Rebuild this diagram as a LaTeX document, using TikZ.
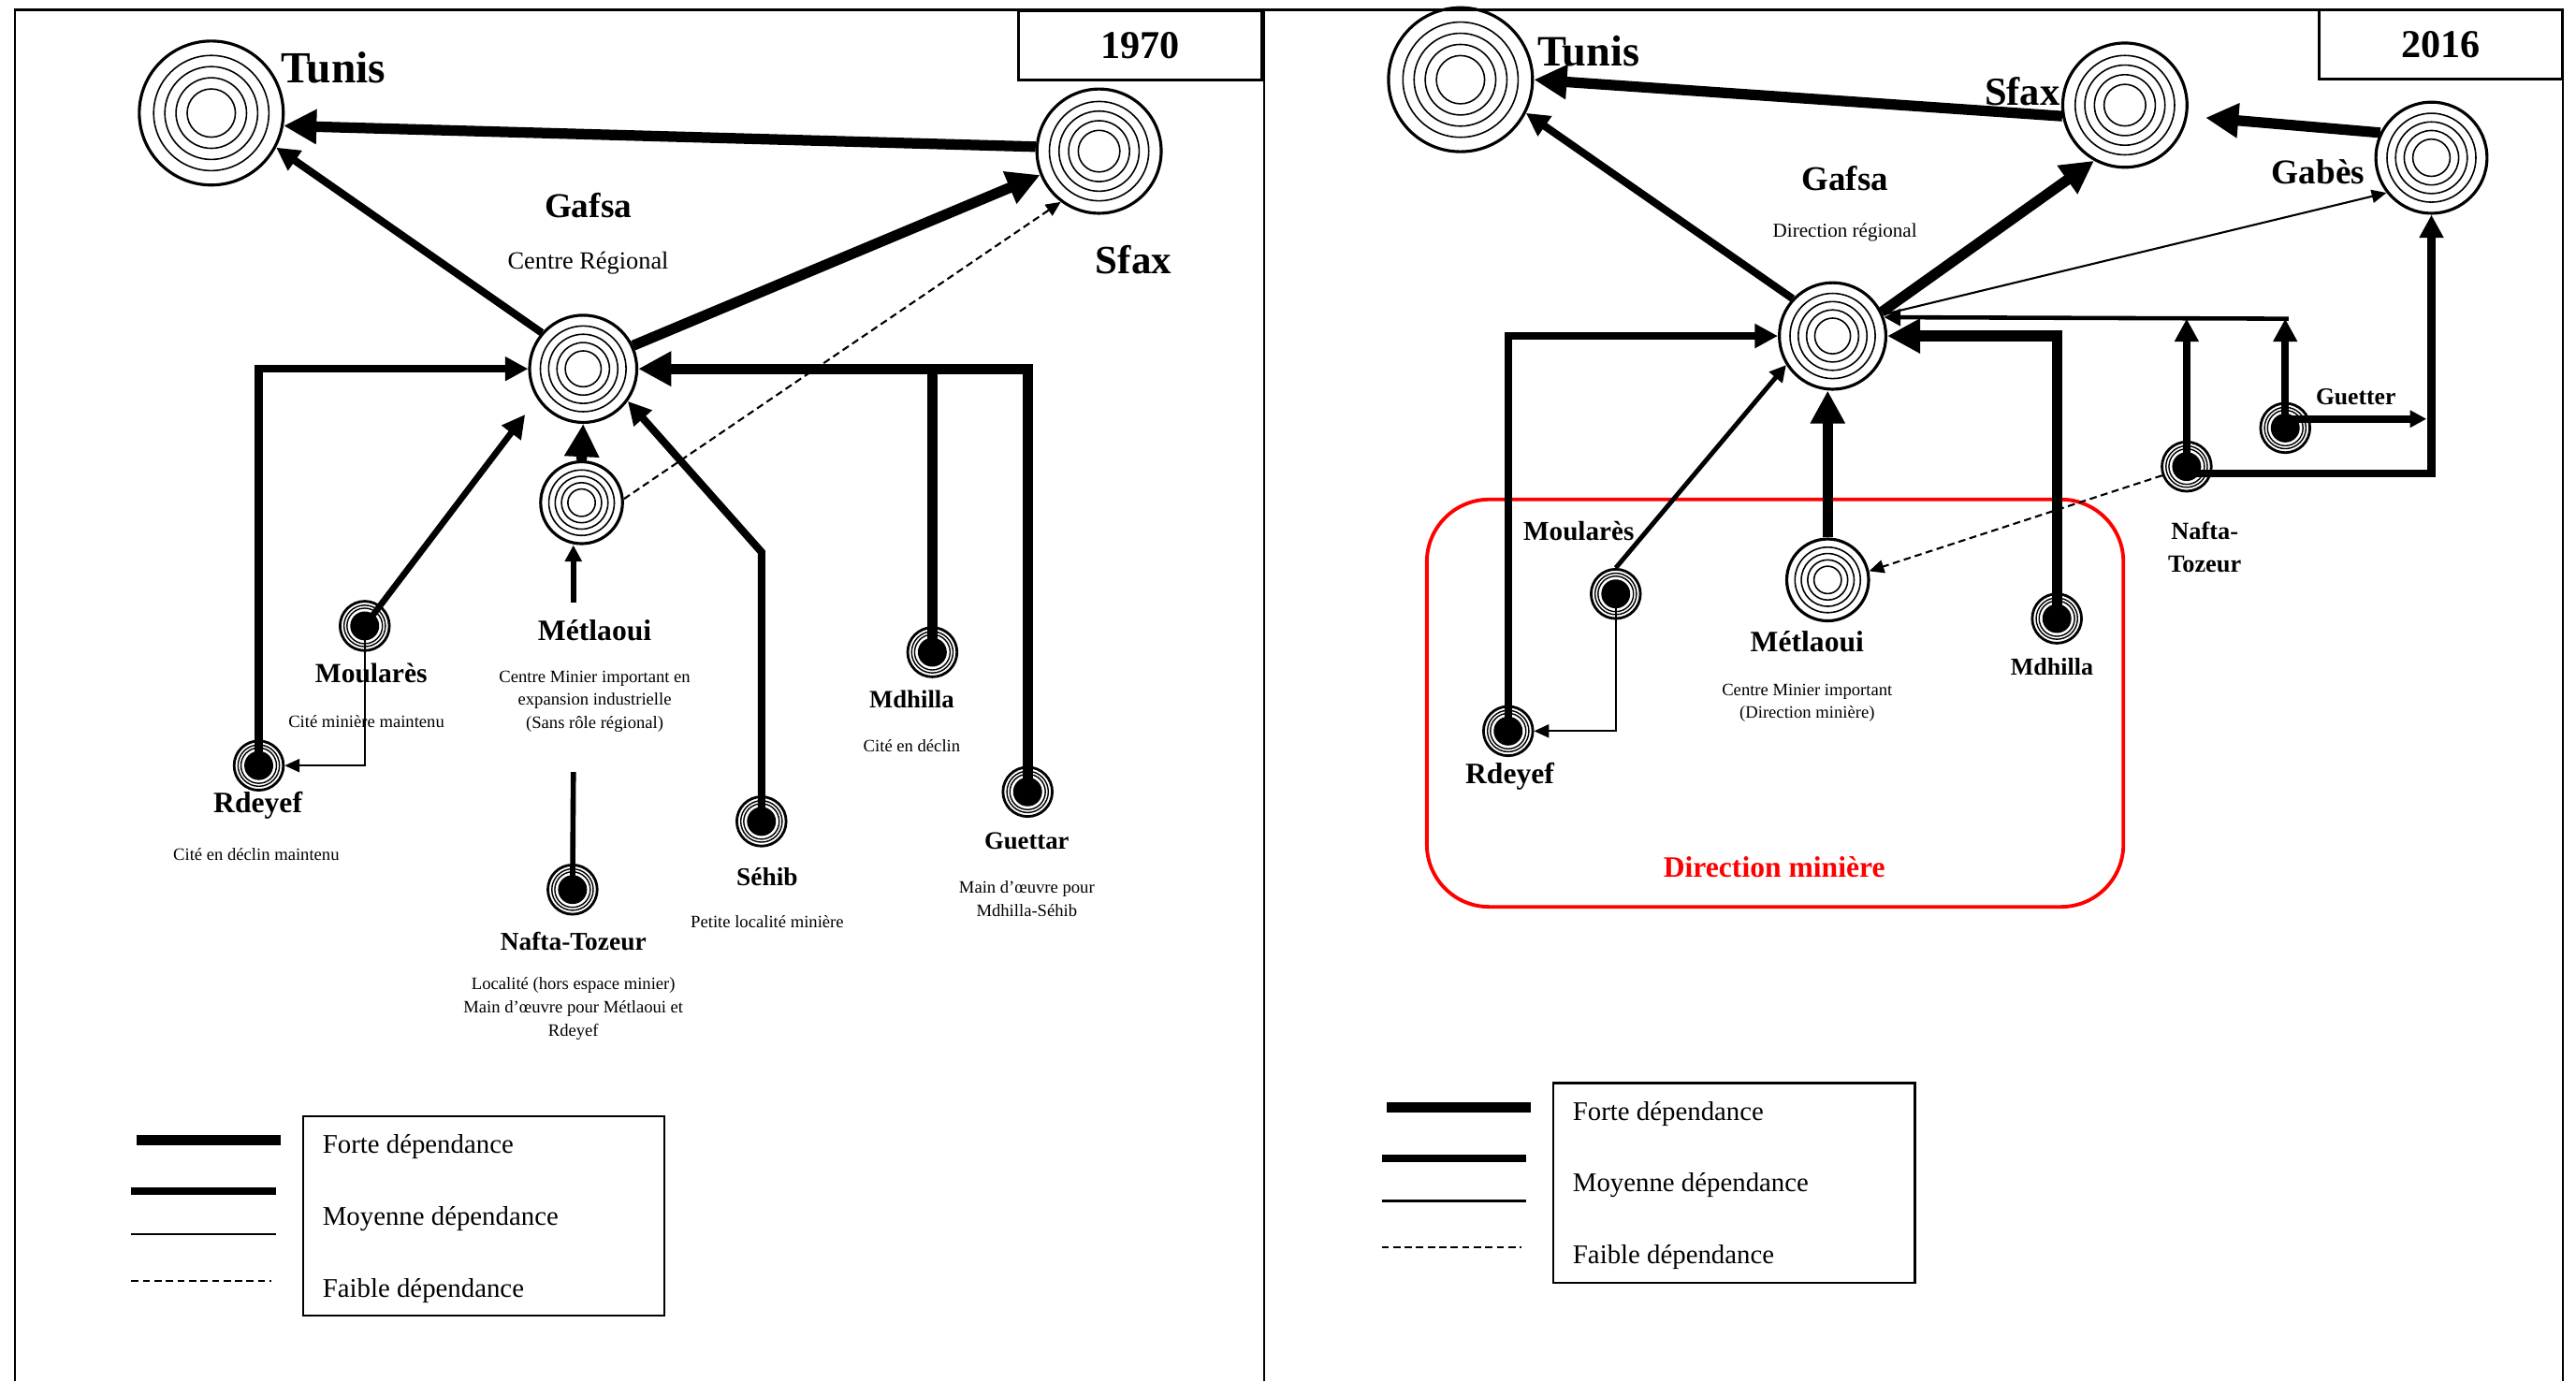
\documentclass[tikz,border=0pt]{standalone}
\usepackage{fontspec}
\setmainfont{Liberation Serif}
\usetikzlibrary{arrows.meta,calc}
\begin{document}
\begin{tikzpicture}[x=0.017557cm,y=-0.017557cm,
  big/.style={circle, draw, line width=0.9pt, inner sep=0pt, minimum size=#1,
    path picture={\foreach \f in {0.8,0.645,0.49,0.335}{\draw[line width=0.45pt] (path picture bounding box.center) circle[radius=\f*#1/2];}}},
  mine/.style={circle, draw, line width=0.8pt, inner sep=0pt, minimum size=15pt,
    path picture={\draw[line width=0.4pt] (path picture bounding box.center) circle[radius=6.3pt] (path picture bounding box.center) circle[radius=5.4pt];
      \fill (path picture bounding box.center) circle[radius=4.4pt];}},
  forte/.style={line width=3.2pt},
  moy/.style={line width=2.3pt},
  light/.style={line width=1.6pt},
  thinl/.style={line width=0.6pt},
  faible/.style={line width=0.6pt, dash pattern=on 2.2pt off 1.3pt},
  tF/.style={-{Triangle[length=10pt,width=10pt]}},
  tM/.style={-{Triangle[length=7pt,width=7pt]}},
  tL/.style={-{Triangle[length=5pt,width=5pt]}},
  tT/.style={-{Triangle[length=4.5pt,width=4pt]}},
  lbl/.style={inner sep=0pt, font=\bfseries\fontsize{#1}{#1}\selectfont},
  desc/.style={inner sep=0pt, align=center, font=\fontsize{5.3}{7}\selectfont},
  legtxt/.style={inner sep=0pt, anchor=west, font=\fontsize{8.2}{10}\selectfont},
  yearbox/.style={draw, line width=0.9pt, inner sep=0pt, minimum width=74pt, minimum height=21.2pt, font=\bfseries\fontsize{12}{14}\selectfont},
  legbox/.style={draw, line width=0.6pt, inner sep=0pt, minimum width=110pt, minimum height=60.7pt},
]
\fill[white] (0,0) rectangle (1568,840.7);
\useasboundingbox (0,0) rectangle (1568,840.7);

% frames
\draw[line width=0.6pt] (9,840.7) -- (9,6) -- (769.5,6) -- (769.5,840.7);
\draw[line width=0.6pt] (769.5,6) -- (1560,6) -- (1560,840.7);

%================ LEFT 1970 ================
\node[yearbox] (y1970) at (694,27.5) {1970};

\node[big=43.8pt] (tunisL) at (128.6,68.8) {};
\node[big=37.8pt] (sfaxL) at (669,92) {};
\node[big=32.6pt] (gafsaL) at (355,224.5) {};
\node[big=24.9pt] (metlL) at (354,306) {};
\node[mine] (moulL) at (222,381) {};
\node[mine] (rdeyL) at (157.5,466) {};
\node[mine] (nafL) at (348.5,541.5) {};
\node[mine] (sehL) at (463.5,500) {};
\node[mine] (mdhL) at (567.5,397) {};
\node[mine] (gueL) at (625.5,482) {};

\node[lbl=13.5] (tunisLt) at (203,41) {Tunis};
\node[lbl=10.6] (gafsaLt) at (358,125) {Gafsa};
\node[inner sep=0pt, font=\fontsize{7.5}{9}\selectfont] (gafsaLd) at (358,160) {Centre Régional};
\node[lbl=12.2] (sfaxLt) at (690,158) {Sfax};
\node[lbl=9] (metlLt) at (362,383.5) {Métlaoui};
\node[desc] (metlLd) at (362,427) {Centre Minier important en\\expansion industrielle\\(Sans rôle régional)};
\node[lbl=8.4] (moulLt) at (226,409.5) {Moularès};
\node[desc] (moulLd) at (223,439) {Cité minière maintenu};
\node[lbl=9] (rdeyLt) at (157,490.5) {Rdeyef};
\node[desc] (rdeyLd) at (156,520) {Cité en déclin maintenu};
\node[lbl=7.8] (nafLt) at (349,573) {Nafta-Tozeur};
\node[desc] (nafLd) at (349,614) {Localité (hors espace minier)\\Main d’œuvre pour Métlaoui et\\Rdeyef};
\node[lbl=7.8] (sehLt) at (467,533.5) {Séhib};
\node[desc] (sehLd) at (467,561) {Petite localité minière};
\node[lbl=7.6] (mdhLt) at (555,425.5) {Mdhilla};
\node[desc] (mdhLd) at (555,454) {Cité en déclin};
\node[lbl=7.6] (gueLt) at (625,512) {Guettar};
\node[desc] (gueLd) at (625,547) {Main d’œuvre pour\\Mdhilla-Séhib};

\coordinate (ntA) at (349,470);
\coordinate (ntB) at (349,367);
\coordinate (sehK) at (463.5,336);

\draw[forte,tF] (sfaxL.176) -- (tunisL.-10);
\draw[moy,tM] (gafsaL.139) -- (tunisL.-28);
\draw[forte,tF] (gafsaL.25) -- (sfaxL.202);
\draw[faible,tT] (metlL.5) -- (sfaxL.233);
\draw[forte,tF] (metlL.north) -- (gafsaL.south);
\draw[light] (nafL.center) -- (ntA);
\draw[light,tL] (ntB) -- (ntB |- metlL.south);
\draw[line width=1.9pt,tM,shorten >=6pt] (moulL.center) -- (gafsaL.213);
\draw[moy,tM] (sehL.center) -- (sehK) -- (gafsaL.-36);
\draw[moy,tM] (rdeyL.center) |- (gafsaL.west);
\draw[thinl,tT] (moulL.center) |- (rdeyL.east);
\draw[forte,tF] (mdhL.center) |- (gafsaL.east);
\draw[forte] (gueL.center) |- (mdhL.center |- gafsaL.east);

% legend left
\draw[line width=3.3pt] (83,694) -- (171,694);
\draw[line width=2.1pt] (80,725) -- (168,725);
\draw[line width=0.6pt] (80,751) -- (168,751);
\draw[faible] (80,779.5) -- (165,779.5);
\node[legbox] (legL) at (294.5,740) {};
\node[legtxt] (legL1) at (196,698) {Forte dépendance};
\node[legtxt] (legL2) at (196,742) {Moyenne dépendance};
\node[legtxt] (legL3) at (196,786) {Faible dépendance};

%================ RIGHT 2016 ================
\node[yearbox] (y2016) at (1485.5,27) {2016};

\draw[red, line width=1.1pt, rounded corners=19pt] (868.5,304) rectangle (1292.5,552);
\node[lbl=9, text=red] (dirmin) at (1080,528) {Direction minière};

\node[big=43.8pt] (tunisR) at (889,48.5) {};
\node[big=37.8pt] (sfaxR) at (1293.4,64) {};
\node[big=33.8pt] (gabes) at (1480,96) {};
\node[big=32.4pt] (gafsaR) at (1115.5,204.5) {};
\node[big=24.9pt] (metlR) at (1112.5,353) {};
\node[mine] (moulR) at (983.5,361.5) {};
\node[mine] (rdeyR) at (918,445) {};
\node[mine] (mdhR) at (1252,376.5) {};
\node[mine] (nafR) at (1331,284) {};
\node[mine] (gueR) at (1391,260.5) {};

\node[lbl=13.2] (tunisRt) at (967,31) {Tunis};
\node[lbl=12.1] (sfaxRt) at (1231,55.5) {Sfax};
\node[lbl=10.6] (gabesT) at (1411,104.5) {Gabès};
\node[lbl=10.5] (gafsaRt) at (1123,108.5) {Gafsa};
\node[inner sep=0pt, font=\fontsize{6}{7}\selectfont] (gafsaRd) at (1123,141.5) {Direction régional};
\node[lbl=7.3] (gueRt) at (1434,241.5) {Guetter};
\node[lbl=7.5, align=center, font=\bfseries\fontsize{7.5}{10}\selectfont] (nafRt) at (1342,333) {Nafta-\\Tozeur};
\node[lbl=8.3] (moulRt) at (961,323.5) {Moularès};
\node[lbl=9] (metlRt) at (1100,390.5) {Métlaoui};
\node[desc] (metlRd) at (1100,428) {Centre Minier important\\(Direction minière)};
\node[lbl=7.4] (mdhRt) at (1249,406) {Mdhilla};
\node[lbl=9] (rdeyRt) at (919,472.5) {Rdeyef};

\coordinate (hl) at (1393,194);
\coordinate (gg) at (1477,255);
\coordinate (nn) at (1331,288);

\draw[forte,tF] (sfaxR.190) -- (tunisR.east);
\draw[forte,tF,shorten >=5.5pt] (gabes.154) -- (sfaxR.-10);
\draw[moy,tM] (gafsaR.137) -- (tunisR.-27);
\draw[forte,tF] (gafsaR.26) -- (sfaxR.241);
\draw[thinl,tT] (gafsaR.23) -- (gabes.218);
\draw[forte,tF] (mdhR.center) |- (gafsaR.east);
\draw[forte,tF] (metlR.north) -- (metlR.north |- gafsaR.south);
\draw[moy,tM] (rdeyR.center) |- (gafsaR.west);
\draw[line width=1.4pt,tL] (moulR.north) -- (gafsaR.212);
\draw[thinl,tT] (moulR.center) |- (rdeyR.east);
\draw[line width=1.3pt,tL] (hl) -- (gafsaR.20);
\draw[moy,tM] (nafR.center) -- (nafR.center |- hl);
\draw[moy,tM] (gueR.center) -- (gueR.center |- hl);
\draw[moy,tL] (gueR.center |- gg) -- (gg);
\draw[moy,tM] (nn) -| (gabes.south);
\draw[faible,tT] (nafR.200) -- (metlR.12);

% legend right
\draw[line width=3.3pt] (844,674) -- (932,674);
\draw[line width=2.1pt] (841,705) -- (929,705);
\draw[line width=0.6pt] (841,731) -- (929,731);
\draw[faible] (841,759) -- (926,759);
\node[legbox] (legR) at (1055.5,720) {};
\node[legtxt] (legR1) at (957,678) {Forte dépendance};
\node[legtxt] (legR2) at (957,721.5) {Moyenne dépendance};
\node[legtxt] (legR3) at (957,765) {Faible dépendance};
\end{tikzpicture}
\end{document}
